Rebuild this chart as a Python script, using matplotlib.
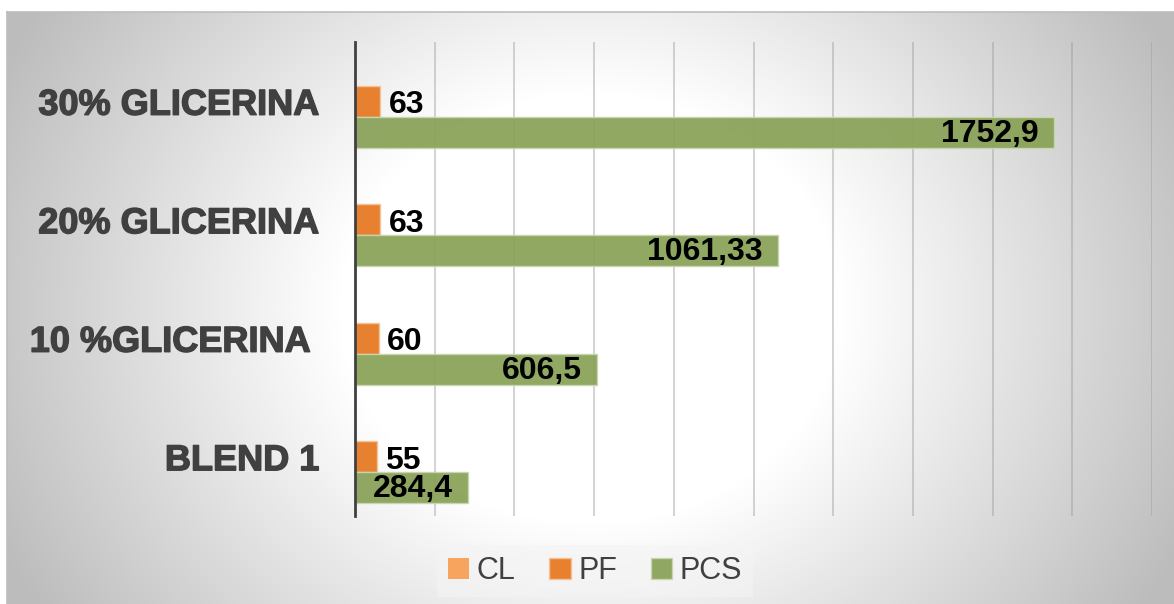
import numpy as np
import matplotlib.pyplot as plt
import matplotlib.patheffects as pe

# Chart data (bottom to top)
categories = ["BLEND 1", "10 %GLICERINA ", "20% GLICERINA", "30% GLICERINA"]
series_names = ["CL", "PF", "PCS"]
cl_values = [0, 0, 0, 0]
pf_values = [55, 60, 63, 63]
pcs_values = [284.4, 606.5, 1061.33, 1752.9]
pf_labels = ["55", "60", "63", "63"]
pcs_labels = ["284,4", "606,5", "1061,33", "1752,9"]

# Colours
cl_color = "#F6A45E"
pf_color = "#E8812F"
pcs_color = "#8AA35A"
text_color = "#404040"

W, H = 1174, 604
fig = plt.figure(figsize=(W / 100, H / 100), dpi=100)
fig.patch.set_facecolor("white")

# Radial grey background of the chart area
x0, y0 = 7, 12
bg = fig.add_axes([x0 / W, 0, 1 - x0 / W, 1 - y0 / H], zorder=-10)
xx, yy = np.meshgrid(np.arange(x0, W), np.arange(y0, H))
d = np.sqrt(((xx - 590) / 583.0) ** 2 + ((yy - 308) / 500.0) ** 2)
t = np.clip((d - 0.43) / 0.57, 0, 1.3)
shade = np.clip(255 - 55 * t, 188, 255) / 255.0
bg.imshow(np.dstack([shade, shade, shade]), aspect="auto", interpolation="bilinear")
bg.set_xticks([])
bg.set_yticks([])
for side in ["right", "bottom"]:
    bg.spines[side].set_visible(False)
for side in ["top", "left"]:
    bg.spines[side].set_color("#bdbdbd")
    bg.spines[side].set_linewidth(1.2)

# Plot area
ax = fig.add_axes([355 / W, 1 - 516 / H, (1152 - 355) / W, (516 - 42) / H])
ax.patch.set_alpha(0)

y = np.arange(len(categories))
bh = 0.262
ax.barh(y + bh, cl_values, height=bh, color=cl_color, linewidth=0, label="CL", zorder=3)
pf_bars = ax.barh(y, pf_values, height=bh, color=pf_color, edgecolor="#F3C49A",
                  linewidth=1, label="PF", zorder=3)
pcs_bars = ax.barh(y - bh, pcs_values, height=bh, color=pcs_color, edgecolor="#C9D6B0",
                   linewidth=1, alpha=0.95, label="PCS", zorder=3)

# Data labels
for bar, lab in zip(pf_bars, pf_labels):
    ax.annotate(lab, (bar.get_width(), bar.get_y() + bar.get_height() / 2),
                xytext=(6, -3), textcoords="offset points", ha="left", va="center",
                fontsize=23, fontweight="bold", family="Liberation Sans", color="black")
for bar, lab in zip(pcs_bars, pcs_labels):
    ax.annotate(lab, (bar.get_width(), bar.get_y() + bar.get_height() / 2),
                xytext=(-11, -1), textcoords="offset points", ha="right", va="center",
                fontsize=23, fontweight="bold", family="Liberation Sans", color="black")

ax.set_xlim(0, 2000)
ax.set_ylim(-0.5, len(categories) - 0.5)
ax.set_xticks(np.arange(0, 2001, 200))
ax.grid(axis="x", color="#9a9a9a", alpha=0.5, linewidth=1.2, zorder=0)
ax.tick_params(axis="x", length=0, labelbottom=False)
ax.tick_params(axis="y", length=0, pad=26)
ax.set_yticks(y)
ax.set_yticklabels(categories, fontsize=26, fontweight="bold", family="Liberation Sans",
                   color=text_color)
for lbl in ax.get_yticklabels():
    lbl.set_path_effects([pe.withStroke(linewidth=1.0, foreground=text_color)])
for side in ["top", "right", "bottom"]:
    ax.spines[side].set_visible(False)
ax.spines["left"].set_color("#404040")
ax.spines["left"].set_linewidth(2)
ax.spines["left"].set_zorder(4)

# Legend
leg = fig.legend(loc="center", bbox_to_anchor=(595 / W, 1 - 571 / H), ncol=3,
                 frameon=True, fancybox=False, facecolor="#f4f4f4", framealpha=0.6,
                 edgecolor="none", prop={"family": "Liberation Sans", "size": 22},
                 handlelength=0.7, handleheight=0.7, handletextpad=0.25,
                 columnspacing=1.1, borderpad=0.35)
for txt in leg.get_texts():
    txt.set_color(text_color)

fig.savefig("out.png", dpi=100)
